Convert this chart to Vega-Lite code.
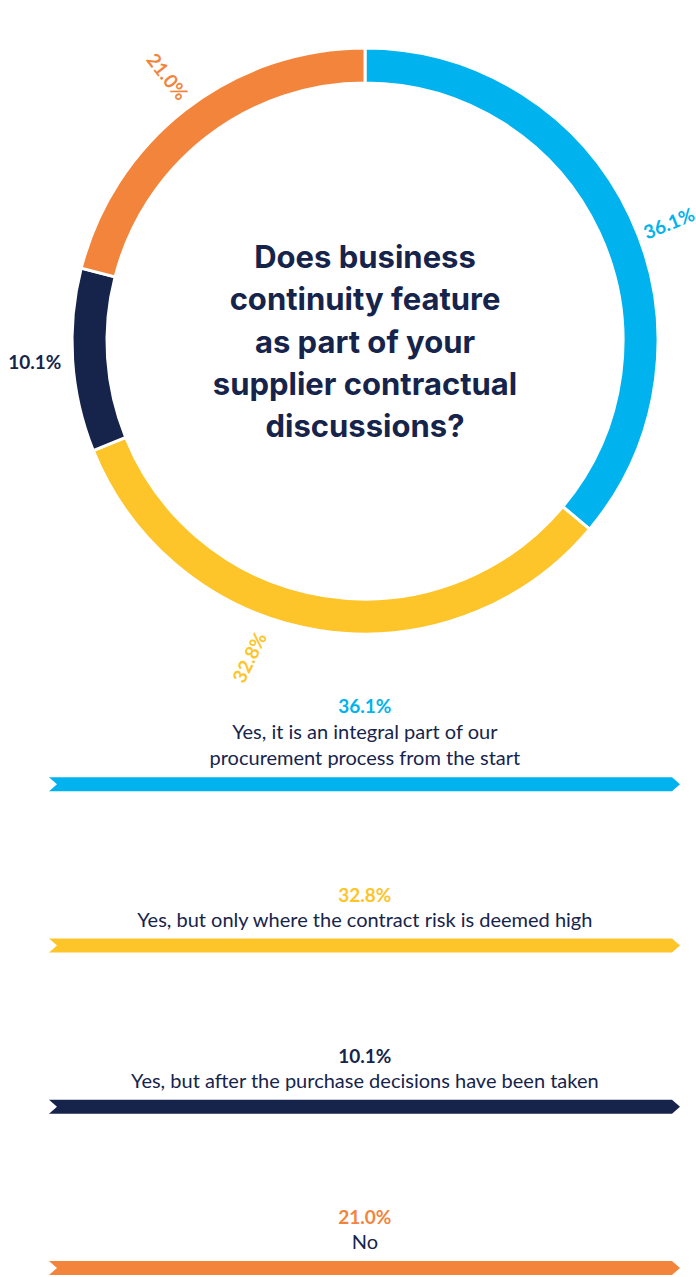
{
  "$schema": "https://vega.github.io/schema/vega-lite/v6.json",
  "padding": 0,
  "bounds": "flush",
  "spacing": 0,
  "columns": 2,
  "align": "each",
  "config": {"view": {"stroke": null}, "font": "Lato"},
  "data": {"values": [
    {"rank": 1, "answer": "Yes, it is an integral part of our procurement process from the start", "label": "Yes, it is an integral part of our\nprocurement process from the start", "share": 0.361},
    {"rank": 2, "answer": "Yes, but only where the contract risk is deemed high", "label": "Yes, but only where the contract risk is deemed high", "share": 0.328},
    {"rank": 3, "answer": "Yes, but after the purchase decisions have been taken", "label": "Yes, but after the purchase decisions have been taken", "share": 0.101},
    {"rank": 4, "answer": "No", "label": "No", "share": 0.21}
  ]},
  "concat": [
    {
      "width": 34,
      "height": 682,
      "data": {"values": []},
      "mark": {"type": "point", "opacity": 0},
      "encoding": {}
    },
    {
      "width": 662,
      "height": 682,
      "encoding": {
        "theta": {"field": "share", "type": "quantitative", "stack": true},
        "order": {"field": "rank"},
        "color": {"field": "rank", "type": "ordinal", "legend": null, "scale": {"domain": [1, 2, 3, 4], "range": ["#00B3EE", "#FDC52A", "#16244C", "#F3843C"]}}
      },
      "layer": [
        {
          "mark": {"type": "arc", "outerRadius": 293, "innerRadius": 258, "stroke": "white", "strokeWidth": 3}
        },
        {
          "mark": {"type": "text", "radius": 326, "thetaOffset": 0.07, "angle": -22, "fontSize": 19, "fontWeight": "bold", "align": "center", "baseline": "middle"},
          "encoding": {
            "text": {"condition": {"test": "datum.rank === 1", "field": "share", "type": "quantitative", "format": ".1%"}, "value": ""}
          }
        },
        {
          "mark": {"type": "text", "radius": 337, "thetaOffset": 0.19, "angle": -64, "fontSize": 19, "fontWeight": "bold", "align": "center", "baseline": "middle"},
          "encoding": {
            "text": {"condition": {"test": "datum.rank === 2", "field": "share", "type": "quantitative", "format": ".1%"}, "value": ""}
          }
        },
        {
          "mark": {"type": "text", "radius": 331, "angle": 0, "fontSize": 19, "fontWeight": "bold", "align": "center", "baseline": "middle"},
          "encoding": {
            "text": {"condition": {"test": "datum.rank === 3", "field": "share", "type": "quantitative", "format": ".1%"}, "value": ""}
          }
        },
        {
          "mark": {"type": "text", "radius": 330, "thetaOffset": 0.015, "angle": 52, "fontSize": 19, "fontWeight": "bold", "align": "center", "baseline": "middle"},
          "encoding": {
            "text": {"condition": {"test": "datum.rank === 4", "field": "share", "type": "quantitative", "format": ".1%"}, "value": ""}
          }
        },
        {
          "data": {"values": [{"q": "Does business\ncontinuity feature\nas part of your\nsupplier contractual\ndiscussions?"}]},
          "mark": {"type": "text", "font": "Inter", "fontSize": 31, "fontWeight": "bold", "lineHeight": 42.3, "lineBreak": "\n", "align": "center", "baseline": "middle", "dy": -82, "color": "#16244C"},
          "encoding": {"text": {"field": "q"}, "theta": null, "order": null, "color": null}
        }
      ]
    },
    {
      "width": 34,
      "height": 595,
      "data": {"values": []},
      "mark": {"type": "point", "opacity": 0},
      "encoding": {}
    },
    {
      "width": 662,
      "height": 595,
      "encoding": {
        "y": {"field": "rank", "type": "ordinal", "axis": null, "scale": {"type": "point", "padding": 0.3455, "align": 0.919}}
      },
      "layer": [
        {
          "mark": {"type": "rule", "strokeWidth": 14, "strokeCap": "butt"},
          "encoding": {
            "x": {"datum": 0, "type": "quantitative", "axis": null, "scale": {"domain": [0, 100], "range": [15, 638]}},
            "x2": {"datum": 100},
            "color": {"field": "rank", "type": "ordinal", "legend": null}
          }
        },
        {
          "mark": {"type": "point", "shape": "M0,-0.875L1,0L0,0.875Z", "size": 256, "filled": true, "opacity": 1, "strokeWidth": 0},
          "encoding": {
            "x": {"datum": 100, "type": "quantitative"},
            "color": {"field": "rank", "type": "ordinal", "legend": null}
          }
        },
        {
          "mark": {"type": "point", "shape": "M0,-0.875L1,0L0,0.875Z", "size": 256, "filled": true, "opacity": 1, "strokeWidth": 0, "color": "white"},
          "encoding": {
            "x": {"datum": 0, "type": "quantitative"}
          }
        },
        {
          "transform": [{"filter": "indexof(datum.label, '\\n') >= 0"}],
          "mark": {"type": "text", "fontSize": 20, "lineHeight": 26, "lineBreak": "\n", "align": "center", "baseline": "bottom", "dy": -41, "color": "#16244C"},
          "encoding": {
            "x": {"datum": 50.7, "type": "quantitative"},
            "text": {"field": "label"}
          }
        },
        {
          "transform": [{"filter": "indexof(datum.label, '\\n') < 0"}],
          "mark": {"type": "text", "fontSize": 20, "lineHeight": 26, "lineBreak": "\n", "align": "center", "baseline": "bottom", "dy": -15, "color": "#16244C"},
          "encoding": {
            "x": {"datum": 50.7, "type": "quantitative"},
            "text": {"field": "label"}
          }
        },
        {
          "transform": [{"filter": "indexof(datum.label, '\\n') >= 0"}],
          "mark": {"type": "text", "fontSize": 19, "fontWeight": "bold", "align": "center", "baseline": "middle", "dy": -77},
          "encoding": {
            "x": {"datum": 50.7, "type": "quantitative"},
            "color": {"field": "rank", "type": "ordinal", "legend": null},
            "text": {"field": "share", "type": "quantitative", "format": ".1%"}
          }
        },
        {
          "transform": [{"filter": "indexof(datum.label, '\\n') < 0"}],
          "mark": {"type": "text", "fontSize": 19, "fontWeight": "bold", "align": "center", "baseline": "middle", "dy": -50},
          "encoding": {
            "x": {"datum": 50.7, "type": "quantitative"},
            "color": {"field": "rank", "type": "ordinal", "legend": null},
            "text": {"field": "share", "type": "quantitative", "format": ".1%"}
          }
        }
      ]
    }
  ]
}
